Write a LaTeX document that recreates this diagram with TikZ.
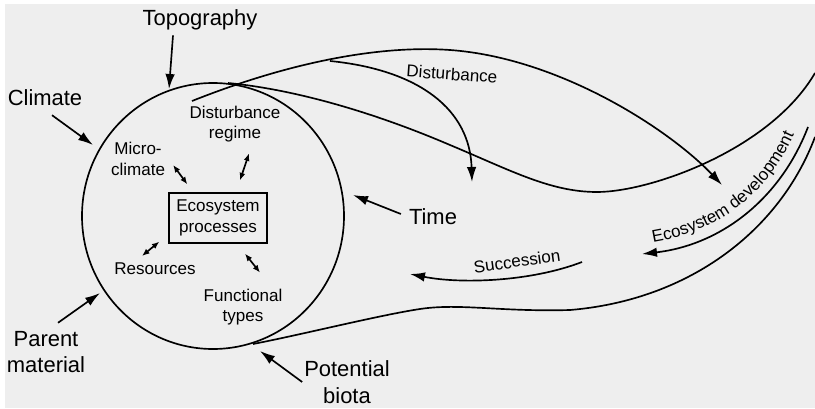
\documentclass[tikz,border=0pt]{standalone}
\usepackage{fontspec}
\setmainfont{Liberation Sans}
\usepackage{tikz}
\usetikzlibrary{arrows.meta}
\usetikzlibrary{positioning}
\usetikzlibrary{decorations.text}
\definecolor{bggray}{RGB}{238,238,238}

\begin{document}
\begin{tikzpicture}[x=0.02cm, y=-0.02cm,
  biglabel/.style={align=center, inner sep=1pt, font=\fontsize{12.5}{15.3}\selectfont},
  smalllabel/.style={align=center, inner sep=1pt, font=\fontsize{9.7}{11.8}\selectfont},
  curve/.style={line width=0.95pt},
  bigarrow/.style={line width=0.95pt, -{Latex[length=0.3cm,width=0.19cm]}},
  dblarrow/.style={line width=0.95pt, {Latex[length=0.15cm,width=0.12cm]}-{Latex[length=0.15cm,width=0.12cm]}}]

\useasboundingbox (0,0) rectangle (815,409);
\fill[bggray] (5,4) rectangle (815,408);

\coordinate (ringc) at (213,216);
\draw[curve] (ringc) ellipse [x radius=131, y radius=133];

\node at (218,218) [rectangle, draw=black, line width=0.75pt, minimum width=1.96cm, minimum height=1cm, smalllabel] (eco) {Ecosystem\\processes};
\node at (235,124) [smalllabel] (distreg) {Disturbance\\regime};
\node at (138,159) [smalllabel] (micro) {Micro-\\climate};
\node at (155,269) [smalllabel] (res) {Resources};
\node at (243,307) [smalllabel] (func) {Functional\\types};

\draw[dblarrow] ([shift={(6,6)}]micro.east) -- ([shift={(19,-8)}]eco.north west);
\draw[dblarrow] ([shift={(14,9)}]distreg.south) -- ([shift={(22,-12)}]eco.north);
\draw[dblarrow] ([shift={(-9,-2)}]eco.south west) -- ([shift={(-13,-5)}]res.north);
\draw[dblarrow] ([shift={(27,10)}]eco.south) -- ([shift={(17,-14)}]func.north);

\node at (200,20) [biglabel] (topo) {Topography};
\node at (45,98) [biglabel] (climate) {Climate};
\node at (46,352) [biglabel] (parent) {Parent\\material};
\node at (347,382) [biglabel] (biota) {Potential\\biota};
\node at (433,217) [biglabel] (time) {Time};

\coordinate (topotip) at (169,89);
\coordinate (climtip) at (93,145);
\coordinate (parenttip) at (100,293);
\coordinate (biotatip) at (260,351);
\coordinate (timetip) at (353,195);

\draw[bigarrow] ([shift={(-27,3)}]topo.south) -- (topotip);
\draw[bigarrow] ([shift={(7,7)}]climate.south) -- (climtip);
\draw[bigarrow] ([shift={(12,-6)}]parent.north) -- (parenttip);
\draw[bigarrow] (biota.west) -- (biotatip);
\draw[bigarrow] ([shift={(-6,-3)}]time.west) -- (timetip);

\coordinate (envstart) at (192,101);
\coordinate (fork) at (330,61);
\coordinate (crest) at (450,50);
\coordinate (devtip) at (722,185);
\coordinate (disttip) at (472,182);
\coordinate (ringtop) at (228,83);
\coordinate (trough) at (597,192);
\coordinate (rimtop) at (815,73);
\coordinate (rimlow) at (815,137);
\coordinate (flat) at (570,310);
\coordinate (hump) at (420,309);
\coordinate (ringbot) at (253,344);
\coordinate (devstart) at (808,127);
\coordinate (devend) at (642,254);
\coordinate (succstart) at (582,262);
\coordinate (succtip) at (410,274);

\draw[bigarrow] (envstart) .. controls (290,62) and (380,45) .. (crest) .. controls (560,58) and (670,130) .. (devtip);
\draw[bigarrow] (fork) .. controls (420,70) and (470,110) .. (disttip);
\draw[curve] (ringtop) .. controls (300,90) and (380,115) .. (450,145) .. controls (510,170) and (550,192) .. (trough) .. controls (650,192) and (770,150) .. (rimtop);
\draw[curve] (rimlow) .. controls (780,230) and (690,300) .. (flat) .. controls (500,312) and (460,303) .. (hump) .. controls (380,315) and (300,335) .. (ringbot);
\draw[bigarrow] (devstart) .. controls (780,200) and (720,245) .. (devend);
\draw[bigarrow] (succstart) .. controls (530,282) and (460,284) .. (succtip);

\node at (452,74) [smalllabel, rotate=-4] (dist) {Disturbance};
\node at (517,261) [smalllabel, rotate=8] (succ) {Succession};
\path[decorate, decoration={text along path, text align=center, text={|\fontsize{9.7}{11.8}\selectfont|Ecosystem development}}] (641,244) .. controls (716,235) and (770,196) .. (799,123);

\end{tikzpicture}
\end{document}
